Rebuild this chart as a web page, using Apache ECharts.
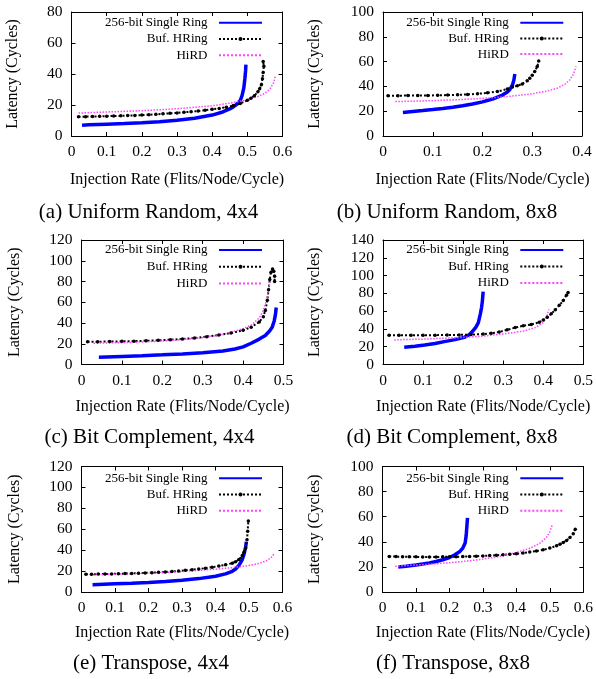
<!DOCTYPE html>
<html>
<head>
<meta charset="utf-8">
<script src="https://cdn.jsdelivr.net/npm/echarts@6/dist/echarts.min.js"></script>
<style>
  html, body { margin: 0; padding: 0; background: #fff; }
  #chart { width: 596px; height: 679px; }
</style>
</head>
<body>
<div id="chart"></div>
<script>
// series names (legend)
const names = ["256-bit Single Ring", "Buf. HRing", "HiRD"];

// (a) Uniform Random, 4x4  -- [injection rate, latency]
const singleA = [[0.03,7],[0.05,7.2],[0.1,7.6],[0.15,8],[0.2,8.5],[0.25,9.2],[0.3,10.2],[0.35,11.5],[0.4,13.5],[0.43,15.5],[0.45,17.5],[0.46,18.8],[0.47,20.5],[0.48,23],[0.485,26],[0.49,31],[0.493,37],[0.495,42],[0.496,46]];
const hringA = [[0.02,12.5],[0.04,12.5],[0.06,12.6],[0.08,12.7],[0.1,12.8],[0.12,12.9],[0.14,13],[0.16,13.2],[0.18,13.3],[0.2,13.5],[0.22,13.7],[0.24,14],[0.26,14.3],[0.28,14.6],[0.3,14.9],[0.32,15.3],[0.34,15.7],[0.36,16.1],[0.38,16.6],[0.4,17.2],[0.42,17.8],[0.44,18.6],[0.46,19.6],[0.48,21],[0.5,23],[0.51,24.3],[0.52,26],[0.53,28.5],[0.535,30.5],[0.54,33],[0.543,37],[0.545,41],[0.547,45],[0.545,48]];
const hirdA = [[0.02,14.8],[0.1,15.5],[0.2,16.3],[0.3,17.6],[0.4,19.5],[0.45,21.2],[0.5,23.3],[0.53,25.5],[0.55,27.5],[0.565,30.5],[0.575,34.5],[0.58,39]];

// (b) Uniform Random, 8x8
const singleB = [[0.04,19],[0.06,19.8],[0.08,20.5],[0.1,21.3],[0.12,22.2],[0.14,23.2],[0.16,24.4],[0.18,25.8],[0.2,27.5],[0.22,29.8],[0.24,33],[0.25,35.5],[0.255,37.5],[0.26,41],[0.263,45],[0.265,50]];
const hringB = [[0.01,32.5],[0.03,32.5],[0.05,32.6],[0.07,32.6],[0.09,32.7],[0.11,32.8],[0.13,33],[0.15,33.2],[0.17,33.5],[0.19,34],[0.21,34.8],[0.23,35.8],[0.25,38],[0.26,39.5],[0.27,40.5],[0.28,42],[0.29,44.5],[0.295,46.5],[0.3,49],[0.305,52],[0.31,56],[0.313,60.5]];
const hirdB = [[0.025,27.8],[0.05,28],[0.1,28.5],[0.15,29.3],[0.2,30.3],[0.25,31.8],[0.3,34],[0.33,36.3],[0.35,38.5],[0.365,41.5],[0.375,45],[0.383,50],[0.388,56]];

// (c) Bit Complement, 4x4
const singleC = [[0.043,7],[0.1,7.8],[0.15,8.5],[0.2,9.3],[0.25,10.2],[0.3,11.3],[0.35,13],[0.38,15],[0.4,17],[0.42,20.5],[0.44,24.5],[0.455,28],[0.465,32],[0.472,36],[0.477,42],[0.48,48],[0.482,55]];
const hringC = [[0.015,22],[0.04,22],[0.07,22.1],[0.1,22.3],[0.13,22.5],[0.16,22.9],[0.19,23.3],[0.22,23.9],[0.25,24.6],[0.28,25.5],[0.31,26.8],[0.34,28.5],[0.37,30.3],[0.4,33],[0.42,36],[0.44,41],[0.45,46],[0.455,52],[0.46,62],[0.463,72],[0.466,82],[0.469,89],[0.473,92],[0.476,90],[0.478,85],[0.478,80]];
const hirdC = [[0.03,20.5],[0.1,21],[0.15,21.7],[0.2,22.6],[0.25,24],[0.3,26],[0.35,29],[0.4,34.5],[0.42,38],[0.44,45],[0.45,52],[0.458,62],[0.463,72],[0.467,82]];

// (d) Bit Complement, 8x8
const singleD = [[0.053,19.3],[0.08,20.5],[0.104,21.9],[0.13,23.6],[0.153,25.7],[0.18,28],[0.203,30.5],[0.215,33.5],[0.223,37],[0.232,42],[0.238,47],[0.243,57],[0.246,64],[0.248,71],[0.25,82]];
const hringD = [[0.015,33],[0.04,33],[0.07,33],[0.1,33],[0.13,33],[0.16,33.2],[0.19,33.3],[0.22,33.6],[0.25,34.2],[0.27,35.2],[0.29,36.5],[0.31,39],[0.33,41.5],[0.35,43.5],[0.37,45],[0.39,47.5],[0.4,50],[0.41,53],[0.42,57],[0.43,61.5],[0.44,66.5],[0.45,72],[0.458,78],[0.462,81]];
const hirdD = [[0.028,27.5],[0.05,28],[0.1,28.5],[0.15,29.5],[0.2,30.5],[0.25,32],[0.3,34.3],[0.35,37.5],[0.38,41.5],[0.4,47],[0.408,53],[0.414,62]];

// (e) Transpose, 4x4
const singleE = [[0.033,7],[0.1,7.8],[0.15,8.4],[0.2,9.1],[0.25,10],[0.3,11.2],[0.35,12.8],[0.4,15],[0.43,17.3],[0.45,19.8],[0.46,22],[0.47,25.5],[0.48,31],[0.485,36],[0.49,43],[0.492,48]];
const hringE = [[0.013,17],[0.03,17],[0.05,17.1],[0.07,17.2],[0.09,17.3],[0.11,17.4],[0.13,17.6],[0.15,17.8],[0.17,18],[0.19,18.2],[0.21,18.5],[0.23,18.8],[0.25,19.2],[0.27,19.6],[0.29,20.1],[0.31,20.7],[0.33,21.3],[0.35,22],[0.37,22.8],[0.39,23.7],[0.41,24.8],[0.43,26],[0.45,27.6],[0.46,29],[0.47,31],[0.48,35],[0.485,38],[0.49,42],[0.494,50],[0.496,58],[0.498,68]];
const hirdE = [[0.025,16.5],[0.1,17],[0.2,18],[0.3,19.5],[0.4,21.8],[0.45,23.3],[0.5,25.3],[0.53,27.3],[0.55,29.5],[0.565,32.5],[0.575,36.5]];

// (f) Transpose, 8x8
const singleF = [[0.047,20],[0.07,20.6],[0.1,21.5],[0.12,22.3],[0.14,23.2],[0.16,24.3],[0.18,25.7],[0.2,27.5],[0.215,29.5],[0.23,32],[0.24,35],[0.247,39],[0.25,45],[0.252,52],[0.254,59]];
const hringF = [[0.02,28.3],[0.04,28.2],[0.06,28.1],[0.08,28],[0.1,28],[0.12,27.9],[0.14,27.9],[0.16,27.9],[0.18,28],[0.2,28],[0.22,28.1],[0.24,28.2],[0.26,28.3],[0.28,28.5],[0.3,28.7],[0.32,29],[0.34,29.3],[0.36,29.6],[0.38,30],[0.4,30.5],[0.42,31.1],[0.44,31.8],[0.46,32.6],[0.48,33.6],[0.5,35],[0.52,36.8],[0.53,38],[0.54,39.4],[0.55,41],[0.56,43.5],[0.57,46.5],[0.576,50]];
const hirdF = [[0.038,20.5],[0.1,21.5],[0.15,22.3],[0.2,23.3],[0.25,24.6],[0.3,26.2],[0.35,28.3],[0.4,31.5],[0.44,34.8],[0.47,38.8],[0.49,43.5],[0.5,48],[0.508,54]];

// panel layout
const panels = [
  { cap: "(a) Uniform Random, 4x4", capX: 148.5, capY: 212, xMax: 0.6, yMax: 80,  g: [71.5, 12, 211, 124],    xGap: 36, yGap: 51, lgRight: 333, lgTop: 15.7, lgGap: 2.3, data: [singleA, hringA, hirdA] },
  { cap: "(b) Uniform Random, 8x8", capX: 447,   capY: 212, xMax: 0.4, yMax: 100, g: [383, 12, 199, 124],     xGap: 36, yGap: 60, lgRight: 31.7, lgTop: 15.7, lgGap: 1.7, data: [singleB, hringB, hirdB] },
  { cap: "(c) Bit Complement, 4x4", capX: 149.5, capY: 437, xMax: 0.5, yMax: 120, g: [81.5, 240, 202, 124.5], xGap: 34, yGap: 59, lgRight: 333, lgTop: 243, lgGap: 2.7, data: [singleC, hringC, hirdC] },
  { cap: "(d) Bit Complement, 8x8", capX: 452,   capY: 437, xMax: 0.5, yMax: 140, g: [383, 240, 201, 124.5],  xGap: 34, yGap: 60, lgRight: 31.7, lgTop: 243, lgGap: 2.5, data: [singleD, hringD, hirdD] },
  { cap: "(e) Transpose, 4x4",      capX: 151,   capY: 663, xMax: 0.6, yMax: 120, g: [81.5, 466.5, 201, 125.5], xGap: 33, yGap: 59, lgRight: 333, lgTop: 471.3, lgGap: 2.2, data: [singleE, hringE, hirdE] },
  { cap: "(f) Transpose, 8x8",      capX: 453,   capY: 663, xMax: 0.6, yMax: 100, g: [382.5, 466.5, 201, 125.5], xGap: 33, yGap: 60, lgRight: 31.7, lgTop: 471.3, lgGap: 2.2, data: [singleF, hringF, hirdF] },
];

const font = "'Liberation Serif', 'Times New Roman', serif";
const chart = echarts.init(document.getElementById("chart"));

const grid = [], xAxis = [], yAxis = [], series = [], legend = [], title = [];

const frameAxis = (extra) => Object.assign({
  type: "value",
  min: 0,
  axisLine: { show: true, onZero: false, lineStyle: { color: "#000", width: 1 } },
  axisTick: { show: true, inside: true, length: 4, lineStyle: { color: "#000" } },
  splitLine: { show: false },
  axisLabel: { show: false },
}, extra);

panels.forEach((p, i) => {
  grid.push({ left: p.g[0], top: p.g[1], width: p.g[2], height: p.g[3], containLabel: false });

  const lbl = { show: true, color: "#000", fontFamily: font, fontSize: 15.5, margin: 8 };
  xAxis.push(frameAxis({
    gridIndex: i, position: "bottom", max: p.xMax, interval: 0.1,
    axisLabel: lbl,
    name: "Injection Rate (Flits/Node/Cycle)", nameLocation: "middle", nameGap: p.xGap,
    nameTextStyle: { color: "#000", fontFamily: font, fontSize: 16 },
  }));
  xAxis.push(frameAxis({ gridIndex: i, position: "top", max: p.xMax, interval: 0.1 }));

  yAxis.push(frameAxis({
    gridIndex: i, position: "left", max: p.yMax, interval: 20,
    axisLabel: Object.assign({}, lbl, { margin: 9 }),
    name: "Latency (Cycles)", nameLocation: "middle", nameGap: p.yGap,
    nameTextStyle: { color: "#000", fontFamily: font, fontSize: 16 },
  }));
  yAxis.push(frameAxis({ gridIndex: i, position: "right", max: p.yMax, interval: 20 }));

  // blue: single ring
  series.push({
    name: names[0], type: "line", xAxisIndex: 2 * i, yAxisIndex: 2 * i,
    data: p.data[0], symbol: "none", smooth: false,
    lineStyle: { color: "#0000ff", width: 3.5 }, itemStyle: { color: "#0000ff" },
  });
  // black: buffered hring
  series.push({
    name: names[1], type: "line", xAxisIndex: 2 * i, yAxisIndex: 2 * i,
    data: p.data[1], symbol: "circle", symbolSize: 3.5, showSymbol: true,
    lineStyle: { color: "#000", width: 2, type: "dotted" }, itemStyle: { color: "#000" },
  });
  // pink: HiRD
  series.push({
    name: names[2], type: "line", xAxisIndex: 2 * i, yAxisIndex: 2 * i,
    data: p.data[2], symbol: "none",
    lineStyle: { color: "#ff44ff", width: 1.5, type: "dotted" }, itemStyle: { color: "#ff44ff" },
  });

  legend.push({
    orient: "vertical", align: "right", right: p.lgRight, top: p.lgTop, padding: 0,
    itemWidth: 43, itemHeight: 5, itemGap: p.lgGap, selectedMode: false,
    formatter: (n) => n + "  ",
    textStyle: { color: "#000", fontFamily: font, fontSize: 13, lineHeight: 14 },
    data: [
      { name: names[0], itemStyle: { opacity: 0 } },
      { name: names[1] },
      { name: names[2], itemStyle: { opacity: 0 } },
    ],
  });

  title.push({
    text: p.cap, left: p.capX, top: p.capY, padding: 0,
    textAlign: "center", textVerticalAlign: "middle",
    textStyle: { color: "#000", fontFamily: font, fontSize: 21, fontWeight: "normal" },
  });
});

chart.setOption({
  animation: false,
  backgroundColor: "#fff",
  title, grid, xAxis, yAxis, legend, series,
});
</script>
</body>
</html>
